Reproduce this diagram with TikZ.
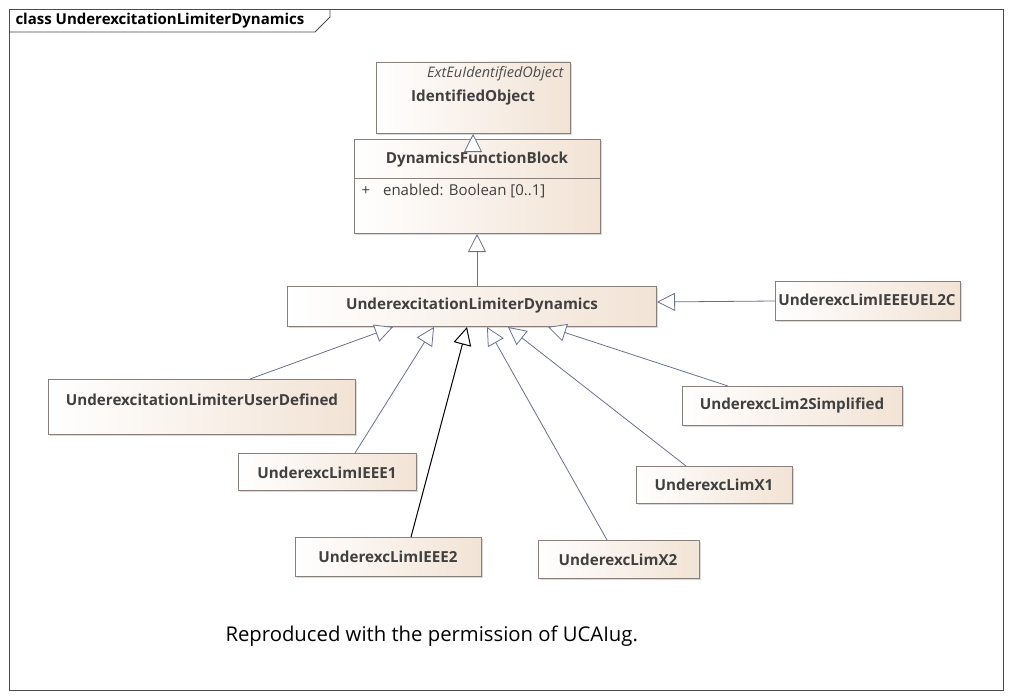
\documentclass[tikz,border=0pt]{standalone}
\usepackage{fontspec}
\setmainfont{Open Sans}
\usetikzlibrary{arrows.meta,shadows}
\definecolor{cream}{HTML}{F2E3D5}
\definecolor{edge}{HTML}{8A7F7A}
\definecolor{lnk}{HTML}{6A7090}
\tikzset{
  cls/.style={draw=edge, line width=0.8pt, left color=white, right color=cream,
    drop shadow={shadow xshift=2pt,shadow yshift=-2pt,fill=black!25,opacity=0.6}},
  lbl/.style={font=\bfseries\fontsize{15.2}{18}\selectfont, text=black!75},
  gen/.style={draw=lnk, line width=0.8pt, -{Triangle[open,length=18pt,width=18pt,fill=white]}},
  genb/.style={draw=black, line width=1pt, -{Triangle[open,length=18pt,width=18pt,fill=white]}}
}
\begin{document}
\begin{tikzpicture}[x=1pt,y=-1pt]
\useasboundingbox (0,0) rectangle (1011,698);
\fill[white] (0,0) rectangle (1011,698);
\draw[black!70, line width=0.8pt] (9,9) rectangle (1003,690);
\draw[black!70, line width=0.8pt] (9,32) -- (315,32) -- (330,17) -- (330,9);
\node[anchor=west, font=\bfseries\fontsize{15}{17}\selectfont] (title) at (12,21) {class UnderexcitationLimiterDynamics};
% boxes
\path[cls] (376,62) rectangle (570,133);
\node[font=\itshape\fontsize{14.5}{17}\selectfont, text=black!70, anchor=east] (ext) at (567,74) {ExtEuIdentifiedObject};
\node[lbl] (io) at (473,98) {IdentifiedObject};
\coordinate (iob) at (473,134);
\path[cls] (354,139) rectangle (600,233);
\draw[edge, line width=0.8pt] (354,178) -- (600,178);
\node[lbl] (dfb) at (477,160) {DynamicsFunctionBlock};
\node[anchor=west, font=\fontsize{15}{18}\selectfont, text=black!75] (att) at (358,191) {+\hspace{13pt}enabled: Boolean [0..1]};
\coordinate (dfbt) at (473,139);
\coordinate (dfbb) at (477,234);
\path[cls] (287,286) rectangle (656,326);
\node[lbl] (uld) at (472,306) {UnderexcitationLimiterDynamics};
\coordinate (uldt) at (477,286);
\path[cls] (775,281) rectangle (960,320);
\node[lbl] (uel) at (867,300) {UnderexcLimIEEEUEL2C};
\path[cls] (48,379) rectangle (355,434);
\node[lbl] (ud) at (202,400) {UnderexcitationLimiterUserDefined};
\path[cls] (238,453) rectangle (416,490);
\node[lbl] (e1) at (327,473) {UnderexcLimIEEE1};
\path[cls] (295,537) rectangle (481,576);
\node[lbl] (e2) at (388,557) {UnderexcLimIEEE2};
\path[cls] (538,540) rectangle (699,578);
\node[lbl] (x2) at (618,560) {UnderexcLimX2};
\path[cls] (636,466) rectangle (792,503);
\node[lbl] (x1) at (714,485) {UnderexcLimX1};
\path[cls] (682,386) rectangle (902,425);
\node[lbl] (s2) at (792,406) {UnderexcLim2Simplified};
% connectors
\coordinate (a1) at (250,379); \coordinate (b1) at (393,327);
\coordinate (a2) at (355,453); \coordinate (b2) at (434,327);
\coordinate (a3) at (411,537); \coordinate (b3) at (467,327);
\coordinate (a4) at (607,540); \coordinate (b4) at (487,327);
\coordinate (a5) at (686,466); \coordinate (b5) at (508,327);
\coordinate (a6) at (728,386); \coordinate (b6) at (548,327);
\coordinate (a7) at (775,301); \coordinate (b7) at (657,302);
\draw[gen] (a1) -- (b1);
\draw[gen] (a2) -- (b2);
\draw[genb] (a3) -- (b3);
\draw[gen] (a4) -- (b4);
\draw[gen] (a5) -- (b5);
\draw[gen] (a6) -- (b6);
\draw[gen] (a7) -- (b7);
\draw[gen] (uldt) -- (dfbb);
\draw[gen] (dfbt) -- (iob);
\node[anchor=west, font=\fontsize{20.3}{24}\selectfont] (note) at (222,636) {Reproduced with the permission of UCAIug.};
\end{tikzpicture}
\end{document}
